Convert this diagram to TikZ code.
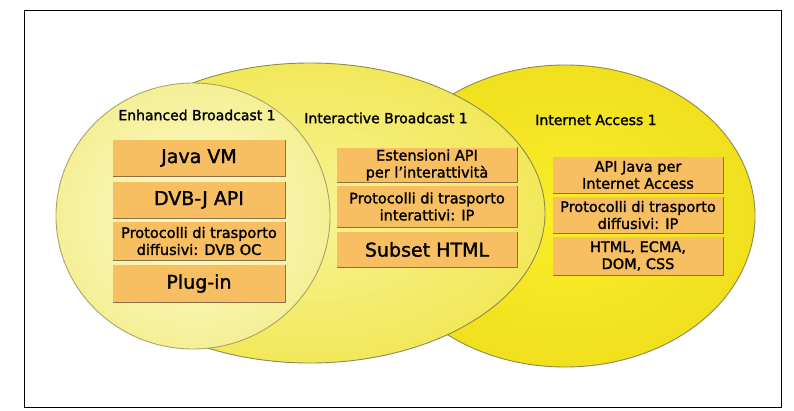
\documentclass[tikz,border=0pt]{standalone}
\usepackage{fontspec}
\setmainfont[FakeBold=1.6,AutoFakeBold=1.6]{DejaVu Sans}
\definecolor{boxorange}{HTML}{F7BE62}
\definecolor{boxedge}{HTML}{8C7148}
\definecolor{ringline}{HTML}{8E8A4E}
\begin{document}
\begin{tikzpicture}[x=1pt,y=-1pt,
  ring/.style={draw=ringline, line width=0.9pt},
  heading/.style={font=\fontsize{14}{16}\selectfont, inner sep=0pt},
  layerbox/.style={fill=boxorange, inner sep=0pt, align=center},
  bigtext/.style={layerbox, font=\fontsize{19}{22}\selectfont},
  smalltext/.style={layerbox, font=\fontsize{14.5}{17}\selectfont},
  boxshadow/.style={draw=boxedge, line width=1.3pt},
]
\useasboundingbox (0,0) rectangle (794,410);
\fill[white] (0,0) rectangle (794,410);

% the three profiles, back to front
\path[shade, inner color={rgb,255:red,250;green,238;blue,40}, outer color={rgb,255:red,240;green,224;blue,30}]
  (565,216) ellipse [x radius=190, y radius=151];
\draw[ring] (565,216) ellipse [x radius=190, y radius=151];

\path[shade, inner color={rgb,255:red,248;green,243;blue,150}, outer color={rgb,255:red,242;green,232;blue,90}]
  (310,213) ellipse [x radius=235, y radius=150];
\draw[ring] (310,213) ellipse [x radius=235, y radius=150];

\path[shade, inner color={rgb,255:red,251;green,249;blue,205}, outer color={rgb,255:red,245;green,240;blue,150}]
  (193,216) ellipse [x radius=137, y radius=133];
\draw[ring, draw opacity=0.75] (193,216) ellipse [x radius=137, y radius=133];

% headings
\node[heading] (hEnh) at (197,115) {Enhanced Broadcast 1};
\node[heading] (hInt) at (386,118) {Interactive Broadcast 1};
\node[heading] (hNet) at (596,120) {Internet Access 1};

% Enhanced Broadcast layers
\node[bigtext, minimum width=172pt, minimum height=36pt] (jvm) at (199,158) {Java VM};
\node[bigtext, minimum width=172pt, minimum height=36pt] (dvbj) at (199,200) {DVB-J API};
\node[smalltext, minimum width=172pt, minimum height=38pt] (protoA) at (199,241) {Protocolli di trasporto\\diffusivi: DVB OC};
\node[bigtext, minimum width=172pt, minimum height=37pt] (plugin) at (199,283.5) {Plug-in};

% Interactive Broadcast layers
\node[smalltext, minimum width=180pt, minimum height=35pt] (estapi) at (427,165) {Estensioni API\\per l'interattività};
\node[smalltext, minimum width=180pt, minimum height=41pt] (protoB) at (427,206.5) {Protocolli di trasporto\\interattivi: IP};
\node[bigtext, minimum width=180pt, minimum height=35pt] (subset) at (427,249.5) {Subset HTML};

% Internet Access layers
\node[smalltext, minimum width=170pt, minimum height=36pt] (apijava) at (638,175) {API Java per\\Internet Access};
\node[smalltext, minimum width=170pt, minimum height=36pt] (protoC) at (638,215) {Protocolli di trasporto\\diffusivi: IP};
\node[smalltext, minimum width=170pt, minimum height=38pt] (html) at (638,256) {HTML, ECMA,\\DOM, CSS};

% darker right and bottom edges of every layer box
\foreach \b in {jvm,dvbj,protoA,plugin,estapi,protoB,subset,apijava,protoC,html}
  \draw[boxshadow] (\b.north east) -- (\b.south east) -- (\b.south west);

% frame
\draw[line width=1pt] (24,10) rectangle (781,407);
\end{tikzpicture}
\end{document}
